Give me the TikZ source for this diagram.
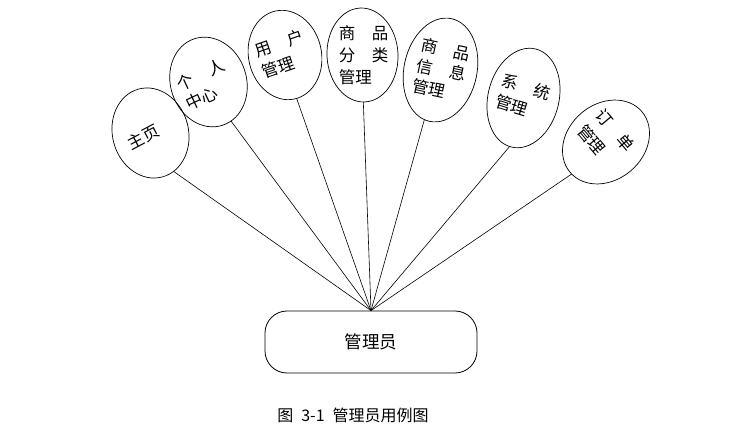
\documentclass[tikz,border=0pt]{standalone}
\usepackage{fontspec}
\newfontfamily\cjk{Noto Sans CJK SC}
\usetikzlibrary{shapes.geometric}
\tikzset{
  uc/.style={draw, ellipse, line width=0.7pt, inner sep=0pt, outer sep=0pt},
  uctext/.style={font=\cjk\fontsize{16.5}{22}\selectfont, align=left, inner sep=0pt},
  link/.style={draw, line width=0.6pt},
  actor/.style={draw, rounded corners=22pt, line width=0.8pt, minimum width=212pt, minimum height=62pt, font=\cjk\fontsize{17.5}{20}\selectfont, inner sep=0pt},
}
\begin{document}
\begin{tikzpicture}[x=1pt,y=-1pt]
\path[use as bounding box] (0,0) rectangle (737,433);
% use-case ellipses
\node[uc, rotate=15, minimum width=76pt, minimum height=91pt] (e1) at (150.5,133) {};
\node[uc, rotate=18, minimum width=76pt, minimum height=91pt] (e2) at (208.5,82) {};
\node[uc, rotate=12, minimum width=73pt, minimum height=90pt] (e3) at (285,55) {};
\node[uc, rotate=3, minimum width=71pt, minimum height=94pt] (e4) at (362.5,55) {};
\node[uc, rotate=-12, minimum width=73pt, minimum height=105pt] (e5) at (440.5,70) {};
\node[uc, rotate=-14, minimum width=71pt, minimum height=101pt] (e6) at (523.5,98) {};
\node[uc, rotate=-50, minimum width=76pt, minimum height=94pt] (e7) at (606,142) {};
% texts
\node[uctext, rotate=28] (t1) at (143.5,137.5) {主页};
\node[uctext, rotate=25] (t2) at (205.6,84.5) {个\hspace{1.1em}人\\中心};
\node[uctext, rotate=19] (t3) at (283,54) {用\hspace{1.05em}户\\管理};
\node[uctext, rotate=0] (t4) at (363.5,55) {商\hspace{1em}品\\分\hspace{1em}类\\管理};
\node[uctext, rotate=-12, font=\cjk\fontsize{16.5}{21}\selectfont] (t5) at (441.4,70) {商\hspace{1em}品\\信\hspace{1em}息\\管理};
\node[uctext, rotate=-17] (t6) at (522.8,97.5) {系\hspace{1em}统\\管理};
\node[uctext, rotate=-50, font=\cjk\fontsize{16.5}{24}\selectfont] (t7) at (605.8,138.2) {订\hspace{0.95em}单\\管理};
% actor
\node[actor] (admin) at (371,342) {管理员};
% connectors
\draw[link] (admin.north) -- (e1.-74);
\draw[link] (admin.north) -- (e2.-78);
\draw[link] (admin.north) -- (e3.-87);
\draw[link] (admin.north) -- (e4.-92);
\draw[link] (admin.north) -- (e5.-96);
\draw[link] (admin.north) -- (e6.-92);
\draw[link] (admin.north) -- (e7.-87);
% caption
\node[font=\cjk\fontsize{16}{18}\selectfont, inner sep=0pt] (cap) at (353,415.5) {图\hspace{0.5em}3-1\hspace{0.5em}管理员用例图};
\end{tikzpicture}
\end{document}
